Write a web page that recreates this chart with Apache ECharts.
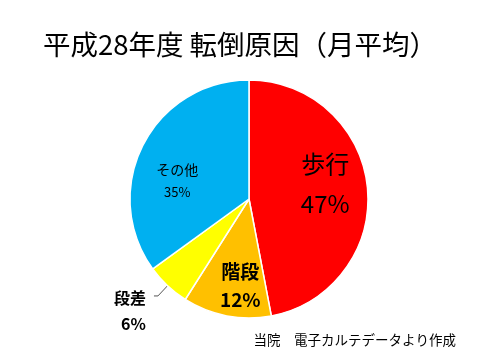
<!DOCTYPE html>
<html><head><meta charset="utf-8">
<script src="https://cdn.jsdelivr.net/npm/echarts@6/dist/echarts.min.js"></script>
<style>html,body{margin:0;padding:0;background:#fff}#c{width:480px;height:360px}</style>
</head><body><div id="c"></div>
<script>
var titleText = '平成28年度 転倒原因（月平均）';
var footnote = '当院　電子カルテデータより作成';
var categories = ['歩行', '階段', '段差', 'その他'];
var values = [47, 12, 6, 35];
var colors = ['#FF0000', '#FFC000', '#FFFF00', '#00B0F0'];

var F = '"Noto Sans CJK JP", "Noto Sans", sans-serif';
var labelStyles = [
  {position: 'inside', offset: [14, -9], fontSize: 24, lineHeight: 40, fontWeight: 'normal'},
  {position: 'inside', offset: [3, 25], fontSize: 19, lineHeight: 28, fontWeight: 'bold'},
  {position: 'outside', fontSize: 16, lineHeight: 26, fontWeight: 'bold', align: 'center', offset: [-3, 15]},
  {position: 'inside', offset: [-16, 10], fontSize: 14, lineHeight: 22, fontWeight: 'normal'}
];

var data = categories.map(function (n, i) {
  var ls = labelStyles[i];
  var d = {
    name: n, value: values[i],
    itemStyle: {color: colors[i]},
    label: {
      show: true, position: ls.position, offset: ls.offset,
      color: '#000', fontFamily: F, fontSize: ls.fontSize, lineHeight: ls.lineHeight,
      fontWeight: ls.fontWeight,
      formatter: '{b}\n' + (i === 3 ? '{s|{c}%}' : '{c}%'),
      rich: {s: {fontSize: 13, fontFamily: F, color: '#000'}}
    }
  };
  if (ls.position === 'outside') {
    d.labelLine = {show: true, length: 14, length2: 4, lineStyle: {color: '#555', width: 1}};
  }
  return d;
});

var chart = echarts.init(document.getElementById('c'));
chart.setOption({
  animation: false,
  backgroundColor: '#fff',
  title: [
    {text: titleText, left: 'center', top: 26, textStyle: {fontFamily: F, fontSize: 27.5, fontWeight: 'normal', color: '#000'}},
    {text: footnote, right: 19, top: 328, textStyle: {fontFamily: F, fontSize: 13.5, fontWeight: 'normal', color: '#000'}}
  ],
  series: [{
    type: 'pie',
    center: [249, 199],
    radius: [0, 119],
    startAngle: 90,
    clockwise: true,
    avoidLabelOverlap: false,
    itemStyle: {borderColor: '#fff', borderWidth: 1.5},
    labelLine: {show: false},
    data: data
  }]
});
</script></body></html>
